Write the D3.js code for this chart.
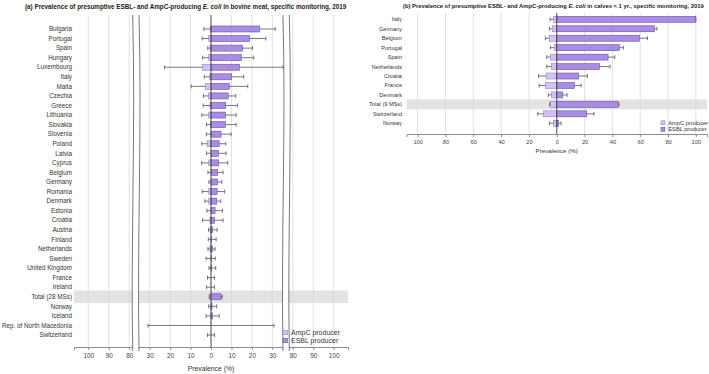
<!DOCTYPE html>
<html>
<head>
<meta charset="utf-8">
<script src="https://cdn.jsdelivr.net/npm/d3@7"></script>
<style>
  body { margin: 0; background: #fff; }
  svg { display: block; font-family: "Liberation Sans", Arial, sans-serif; }
</style>
</head>
<body>
<svg id="chart" width="709" height="374"></svg>
<script>
// panel (a) - bovine meat
const countriesA = ["Bulgaria", "Portugal", "Spain", "Hungary", "Luxembourg", "Italy", "Malta", "Czechia",
  "Greece", "Lithuania", "Slovakia", "Slovenia", "Poland", "Latvia", "Cyprus", "Belgium", "Germany",
  "Romania", "Denmark", "Estonia", "Croatia", "Austria", "Finland", "Netherlands", "Sweden",
  "United Kingdom", "France", "Ireland", "Total (28 MSs)", "Norway", "Iceland",
  "Rep. of North Macedonia", "Switzerland"];
const esblA   = [23.8, 18.9, 15.5, 14.8, 13.9, 10.1, 9.0, 8.4, 7.2, 7.1, 7.1, 4.9, 4.0, 3.7, 3.8, 3.3, 3.2,
  3.0, 2.8, 2.0, 1.7, 0.8, 0.3, 0.7, 0.3, 0.3, 0, 0, 4.9, 0.5, 0.7, 0, 0];
const esblHiA = [31.4, 26.8, 20.3, 20.9, 35.2, 16.0, 18.0, 12.1, 12.9, 12.3, 12.3, 9.8, 7.2, 7.4, 8.2, 5.9, 5.3,
  6.7, 4.8, 5.6, 5.9, 3.0, 2.5, 2.0, 2.1, 2.3, 1.7, 1.7, 5.5, 2.8, 4.0, 30.8, 1.7];
const ampcA   = [0.4, 1.1, 0.5, 1.1, 4.1, 0.6, 2.6, 1.2, 0.5, 1.1, 0.3, 0, 1.9, 0, 1.1, 0, 0,
  1.1, 1.1, 0, 0.5, 0.4, 0, 0.5, 0, 0, 0, 0, 0.6, 0, 0, 0, 0];
const ampcHiA = [3.5, 4.3, 1.6, 4.1, 22.7, 3.3, 9.7, 3.7, 3.8, 4.5, 2.2, 2.3, 4.5, 2.2, 4.6, 1.5, 1.0,
  4.3, 3.0, 2.0, 4.1, 1.2, 1.3, 1.5, 2.4, 1.0, 1.7, 2.2, 0.9, 1.1, 2.4, 30.8, 1.7];
// broken axis: scale positions and the labels printed on them
const tickPosA = [-60, -50, -40, -30, -20, -10, 0, 10, 20, 30, 40, 50, 60];
const tickLabelsA = ["100", "90", "80", "30", "20", "10", "0", "10", "20", "30", "80", "90", "100"];

// panel (b) - calves < 1 yr
const countriesB = ["Italy", "Germany", "Belgium", "Portugal", "Spain", "Netherlands", "Croatia", "France",
  "Denmark", "Total (9 MSs)", "Switzerland", "Norway"];
const esblB   = [100, 70.2, 59.4, 45.0, 36.9, 30.7, 15.8, 12.7, 4.3, 44.1, 21.6, 1.4];
const esblHiB = [100, 72.0, 65.2, 47.9, 41.7, 38.3, 22.0, 17.5, 7.4, 44.8, 26.8, 3.1];
const ampcB   = [2.2, 3.2, 5.5, 1.7, 4.6, 3.8, 7.7, 8.2, 3.8, 4.6, 9.6, 2.4];
const ampcHiB = [4.8, 5.3, 8.2, 4.6, 7.2, 7.2, 13.0, 12.7, 6.0, 5.2, 13.7, 5.3];
const tickPosB = [-100, -80, -60, -40, -20, 0, 20, 40, 60, 80, 100];
const tickLabelsB = ["100", "80", "60", "40", "20", "0", "20", "40", "60", "80", "100"];

const legendLabels = ["AmpC producer", "ESBL producer"];

const colors = {
  ampc: "#d3c0f5", ampcStroke: "#9882cc",
  esbl: "#a98ce3", esblStroke: "#6a51a6",
  grid: "#d9d9d9", whisker: "#555", zero: "#444", band: "#e3e3e3"
};

const svg = d3.select("#chart");

function drawPanel(cfg) {
  const g = svg.append("g");
  const x = d3.scaleLinear().domain(cfg.domain).range(cfg.xRange);
  const y = d3.scaleBand().domain(cfg.countries).range(cfg.yRange);
  const step = y.bandwidth();
  const rows = cfg.countries.map((c, i) => ({
    c, esbl: cfg.esbl[i], esblHi: cfg.esblHi[i], ampc: cfg.ampc[i], ampcHi: cfg.ampcHi[i]
  }));

  // highlighted total row
  const totalRow = cfg.countries.find(c => c.startsWith("Total"));
  g.append("rect")
    .attr("x", cfg.xRange[0]).attr("width", cfg.xRange[1] - cfg.xRange[0])
    .attr("y", y(totalRow) + step / 2 - cfg.bandH / 2).attr("height", cfg.bandH)
    .attr("fill", colors.band);

  // vertical grid
  g.selectAll(".grid").data(cfg.tickPos.filter(v => v !== 0)).enter()
    .append("line")
    .attr("x1", d => x(d)).attr("x2", d => x(d))
    .attr("y1", cfg.gridTop).attr("y2", cfg.axisY)
    .attr("stroke", colors.grid).attr("stroke-width", 0.8);

  // axis
  const axis = g.append("g")
    .attr("transform", `translate(0,${cfg.axisY})`)
    .call(d3.axisBottom(x).tickValues(cfg.tickPos)
      .tickFormat((d, i) => cfg.tickLabels[i]).tickSize(3).tickSizeOuter(3).tickPadding(3));
  axis.select(".domain").attr("stroke", "#8c8c8c");
  axis.selectAll(".tick line").attr("stroke", "#8c8c8c");
  axis.selectAll("text").attr("font-size", cfg.tickFont).attr("fill", "#444")
    .attr("font-family", "Liberation Sans, Arial, sans-serif");

  // country labels
  g.selectAll(".lab").data(rows).enter().append("text")
    .attr("x", cfg.labelX).attr("y", d => y(d.c) + step / 2)
    .attr("dy", "0.35em").attr("text-anchor", "end")
    .attr("font-size", cfg.labelFont).attr("fill", "#333")
    .text(d => d.c);

  const bh = cfg.barH;
  // AmpC bars (left of zero)
  g.selectAll(".ampc").data(rows.filter(d => d.ampc > 0)).enter().append("rect")
    .attr("x", d => x(-d.ampc)).attr("width", d => x(0) - x(-d.ampc))
    .attr("y", d => y(d.c) + (step - bh) / 2).attr("height", bh)
    .attr("fill", colors.ampc).attr("stroke", colors.ampcStroke).attr("stroke-width", 0.6);
  // ESBL bars (right of zero)
  g.selectAll(".esbl").data(rows.filter(d => d.esbl > 0)).enter().append("rect")
    .attr("x", x(0)).attr("width", d => x(d.esbl) - x(0))
    .attr("y", d => y(d.c) + (step - bh) / 2).attr("height", bh)
    .attr("fill", colors.esbl).attr("stroke", colors.esblStroke).attr("stroke-width", 0.6);

  // whiskers
  const whisk = [];
  rows.forEach(d => {
    whisk.push({ c: d.c, from: d.esbl, to: d.esblHi });
    whisk.push({ c: d.c, from: -d.ampc, to: -d.ampcHi });
  });
  const wg = g.selectAll(".wh").data(whisk).enter().append("g");
  wg.append("line")
    .attr("x1", d => x(d.from)).attr("x2", d => x(d.to))
    .attr("y1", d => y(d.c) + step / 2).attr("y2", d => y(d.c) + step / 2)
    .attr("stroke", colors.whisker).attr("stroke-width", 0.8);
  wg.append("line")
    .attr("x1", d => x(d.to)).attr("x2", d => x(d.to))
    .attr("y1", d => y(d.c) + step / 2 - cfg.capH / 2).attr("y2", d => y(d.c) + step / 2 + cfg.capH / 2)
    .attr("stroke", colors.whisker).attr("stroke-width", 0.8);

  // zero line
  g.append("line")
    .attr("x1", x(0)).attr("x2", x(0)).attr("y1", cfg.gridTop).attr("y2", cfg.axisY)
    .attr("stroke", colors.zero).attr("stroke-width", 1);

  // axis breaks
  if (cfg.breaks) {
    cfg.breaks.forEach(b => {
      const x1 = x(b[0]), x2 = x(b[1]);
      const top = cfg.gridTop, bot = cfg.axisY + 4;
      const curve = xx => `M${xx},${top} C${xx + 3},${top + 110} ${xx - 2},${top + 230} ${xx},${bot}`;
      g.append("path")
        .attr("d", curve(x1) + ` L${x2},${bot} ` +
          `C${x2 - 2},${top + 230} ${x2 + 3},${top + 110} ${x2},${top} Z`)
        .attr("fill", "#fff").attr("stroke", "none");
      [x1, x2].forEach(xx => g.append("path").attr("d", curve(xx))
        .attr("fill", "none").attr("stroke", "#555").attr("stroke-width", 0.8));
    });
  }

  // axis title
  g.append("text")
    .attr("x", x(0)).attr("y", cfg.axisTitleY).attr("text-anchor", "middle")
    .attr("font-size", cfg.axisTitleFont).attr("fill", "#333")
    .text("Prevalence (%)");

  // title
  const t = g.append("text")
    .attr("x", cfg.titleX).attr("y", cfg.titleY)
    .attr("font-size", cfg.titleFont).attr("font-weight", "bold").attr("fill", "#222");
  t.append("tspan").text(cfg.title[0]);
  t.append("tspan").attr("font-style", "italic").text(" E. coli");
  t.append("tspan").text(cfg.title[1]);

  // legend
  const lg = g.append("g").attr("transform", `translate(${cfg.legend[0]},${cfg.legend[1]})`);
  legendLabels.forEach((lab, i) => {
    lg.append("rect").attr("x", 0).attr("y", i * cfg.legendGap - cfg.legendBox / 2)
      .attr("width", cfg.legendBox).attr("height", cfg.legendBox)
      .attr("fill", i === 0 ? colors.ampc : colors.esbl)
      .attr("stroke", i === 0 ? colors.ampcStroke : colors.esblStroke).attr("stroke-width", 0.6);
    lg.append("text").attr("x", cfg.legendBox + 3.5).attr("y", i * cfg.legendGap)
      .attr("dy", "0.35em").attr("font-size", cfg.legendFont).attr("fill", "#333").text(lab);
  });
}

drawPanel({
  countries: countriesA, esbl: esblA, esblHi: esblHiA, ampc: ampcA, ampcHi: ampcHiA,
  domain: [-67, 67], xRange: [74, 348], yRange: [24.2, 339.8],
  tickPos: tickPosA, tickLabels: tickLabelsA,
  gridTop: 15, axisY: 347, bandH: 12.5, barH: 6, capH: 4,
  labelX: 72, labelFont: 6.3, tickFont: 6.4, axisTitleFont: 6.8, axisTitleY: 371,
  breaks: [[-38.3, -35.2], [35.2, 38.3]],
  title: ["(a) Prevalence of presumptive ESBL- and AmpC-producing", " in bovine meat, specific monitoring, 2019"],
  titleX: 25, titleY: 9, titleFont: 6.3,
  legend: [283, 332.5], legendGap: 8, legendBox: 4.5, legendFont: 7
});

drawPanel({
  countries: countriesB, esbl: esblB, esblHi: esblHiB, ampc: ampcB, ampcHi: ampcHiB,
  domain: [-108, 108], xRange: [406.5, 707], yRange: [14.6, 128],
  tickPos: tickPosB, tickLabels: tickLabelsB,
  gridTop: 13, axisY: 134, bandH: 10, barH: 6, capH: 4,
  labelX: 402, labelFont: 5.6, tickFont: 5.7, axisTitleFont: 6.2, axisTitleY: 153,
  breaks: null,
  title: ["(b) Prevalence of presumptive ESBL- and AmpC-producing", " in calves < 1 yr., specific monitoring, 2019"],
  titleX: 403, titleY: 8, titleFont: 5.85,
  legend: [661, 122.7], legendGap: 6.7, legendBox: 3.8, legendFont: 5.7
});
</script>
</body>
</html>
